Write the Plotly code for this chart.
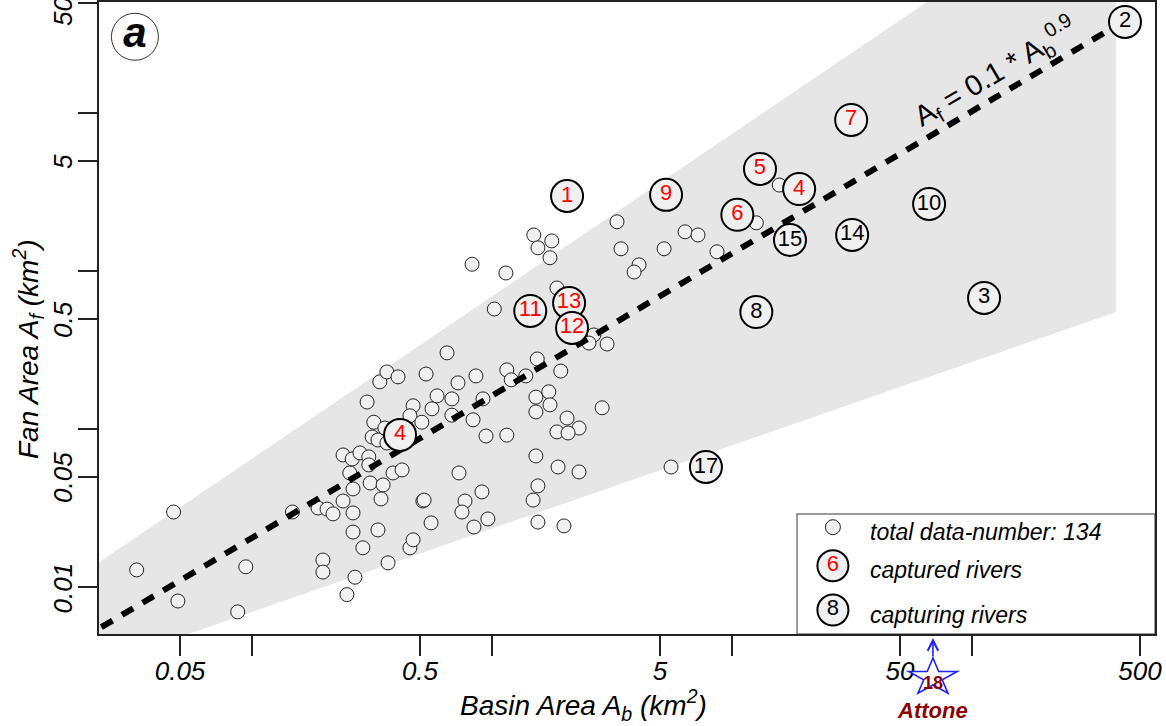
import math
import plotly.graph_objects as go

FONT = "Liberation Sans, Arial, sans-serif"

# ---- all data (basin area Ab km2, fan area Af km2) ----
basin_area = [0.047, 0.033, 0.049, 0.087, 0.094, 0.147, 0.188, 0.205, 0.217, 0.239,
              0.263, 0.263, 0.255, 0.239, 0.261, 0.281, 0.306, 0.306, 0.310, 0.351,
              0.344, 0.386, 0.421, 0.334, 0.263, 0.289, 0.368, 0.454, 0.468, 0.514,
              0.556, 0.197, 0.197, 0.268, 0.248, 0.301, 0.321, 0.316, 0.334, 0.357,
              0.340, 0.364, 0.405, 0.530, 0.468, 0.454, 0.509, 0.561, 0.589, 0.364,
              0.648,
              1.49, 1.77, 1.55, 1.74, 0.824, 1.14, 3.31, 3.44, 6.36, 7.20,
              5.20, 4.09, 3.90, 8.64, 1.86, 1.02, 2.65, 2.53, 3.01, 1.54,
              1.93, 1.15, 1.20, 1.38, 0.855, 0.720, 0.679, 0.915, 0.679, 0.832,
              1.52, 1.52, 1.72, 1.74, 2.87, 2.05, 2.30, 1.86, 2.07, 0.942,
              1.15, 1.52, 1.88, 2.30, 0.727, 5.56, 1.55, 0.906, 0.770, 0.748,
              0.520, 0.959, 0.839, 1.48, 1.55, 1.99, 12.6, 15.7]
fan_area = [0.030, 0.0129, 0.0082, 0.0070, 0.0135, 0.030, 0.0318, 0.0313, 0.0292, 0.0352,
            0.0296, 0.0420, 0.0530, 0.0689, 0.0650, 0.0710, 0.0670, 0.0596, 0.0458, 0.0445,
            0.0363, 0.053, 0.0554, 0.0231, 0.0224, 0.0178, 0.0143, 0.0178, 0.0200, 0.0352,
            0.0256, 0.0149, 0.0125, 0.0116, 0.0090, 0.149, 0.111, 0.0895, 0.0857, 0.102,
            0.200, 0.231, 0.215, 0.224, 0.141, 0.122, 0.111, 0.135, 0.163, 0.082,
            0.305,
            1.70, 1.56, 1.41, 1.22, 1.11, 0.977, 2.06, 1.39, 1.78, 1.70,
            1.39, 1.10, 0.991, 1.33, 0.785, 0.578, 0.396, 0.352, 0.347, 0.279,
            0.234, 0.238, 0.206, 0.218, 0.218, 0.197, 0.156, 0.156, 0.123, 0.115,
            0.160, 0.129, 0.173, 0.143, 0.137, 0.118, 0.102, 0.0964, 0.0949, 0.0908,
            0.092, 0.0679, 0.0578, 0.0538, 0.053, 0.0578, 0.0439, 0.0402, 0.0352, 0.030,
            0.0357, 0.0271, 0.0241, 0.0357, 0.0259, 0.0245, 2.03, 3.52]

captured_id = ["1", "9", "5", "4", "6", "7", "11", "13", "12", "4"]
captured_basin = [2.05, 5.30, 13.05, 19.0, 10.5, 31.3, 1.44, 2.09, 2.15, 0.413]
captured_fan = [3.00, 3.05, 4.45, 3.32, 2.28, 9.09, 0.562, 0.631, 0.439, 0.0923]

capturing_id = ["2", "15", "14", "10", "8", "3", "17"]
capturing_basin = [433, 17.4, 31.6, 66.1, 12.6, 112, 7.77]
capturing_fan = [37.9, 1.58, 1.70, 2.67, 0.553, 0.679, 0.0578]

attone_id = "18"
attone_name = "Attone"
attone_basin = 68.6

fit_basin = [0.0235, 400]
fit_fan = [0.0056, 36]

band_basin = [0.02, 397, 397, 0.02]
band_fan = [0.0125, 327, 0.553, 0.0030]

x_ticks = [0.05, 0.1, 0.5, 1, 5, 10, 50, 100, 500]
x_ticktext = ["0.05", "", "0.5", "", "5", "", "50", "", "500"]
y_ticks = [0.01, 0.05, 0.1, 0.5, 1, 5, 10, 50]
y_ticktext = ["0.01", "0.05", "", "0.5", "", "5", "", "50"]

X_RANGE = [-1.6385, 2.7615]
Y_RANGE = [-2.295, 1.705]

FILL = "#f0f0f0"
EDGE = "#222222"
BLUE = "#1f1fff"
DARKRED = "#8b0000"

fig = go.Figure()

fig.add_trace(go.Scatter(x=band_basin, y=band_fan, mode="lines", fill="toself",
                         fillcolor="#e6e6e6", line=dict(width=0), hoverinfo="skip",
                         showlegend=False))
fig.add_trace(go.Scatter(x=basin_area, y=fan_area, mode="markers",
                         marker=dict(size=14, color=FILL, line=dict(width=1, color=EDGE)),
                         showlegend=False))
fig.add_trace(go.Scatter(x=fit_basin, y=fit_fan, mode="lines",
                         line=dict(color="black", width=6, dash="13px,11px"),
                         showlegend=False))
fig.add_trace(go.Scatter(x=captured_basin, y=captured_fan, mode="markers+text",
                         text=captured_id, textposition="middle center",
                         textfont=dict(family=FONT, size=22, color="#ff0000"),
                         marker=dict(size=32, color=FILL, line=dict(width=2, color="black")),
                         showlegend=False))
fig.add_trace(go.Scatter(x=capturing_basin, y=capturing_fan, mode="markers+text",
                         text=capturing_id, textposition="middle center",
                         textfont=dict(family=FONT, size=22, color="black"),
                         marker=dict(size=32, color=FILL, line=dict(width=2, color="black")),
                         showlegend=False))

# ---- overlay (paper-like) axes for legend box and panel label ----
fig.add_trace(go.Scatter(x=[0.661, 1.0, 1.0, 0.661, 0.661], y=[0, 0, 0.190, 0.190, 0],
                         xaxis="x2", yaxis="y2", mode="lines", fill="toself",
                         fillcolor="white", line=dict(color="#7a7a7a", width=1.5),
                         hoverinfo="skip", showlegend=False, cliponaxis=False))
fig.add_trace(go.Scatter(x=[0.695], y=[0.169], xaxis="x2", yaxis="y2", mode="markers",
                         marker=dict(size=15, color=FILL, line=dict(width=1, color=EDGE)),
                         showlegend=False))
fig.add_trace(go.Scatter(x=[0.695, 0.695], y=[0.108, 0.038], xaxis="x2", yaxis="y2",
                         mode="markers+text", text=["6", "8"], textposition="middle center",
                         textfont=dict(family=FONT, size=22, color=["#ff0000", "black"]),
                         marker=dict(size=31, color=FILL, line=dict(width=2, color="black")),
                         showlegend=False))
fig.add_trace(go.Scatter(x=[0.034], y=[0.945], xaxis="x2", yaxis="y2", mode="markers+text",
                         text=["<b><i>a</i></b>"], textposition="middle center",
                         textfont=dict(family=FONT, size=42, color="black"),
                         marker=dict(size=47, color="white", line=dict(width=1, color="#333")),
                         showlegend=False))

# ---- Attone star (drawn below the x axis as a pixel-sized shape anchored at its basin area) ----
star_rx, star_ry, star_cy = 25.5, 19.5, -43.5   # px: half-width, half-height, centre below axis
pts = []
for k in range(10):
    ang = math.radians(90 + 36 * k)
    f = 1.0 if k % 2 == 0 else 0.382
    pts.append((star_rx * f * math.cos(ang), star_cy + star_ry * f * math.sin(ang)))
star_path = "M" + " L".join("%.2f,%.2f" % p for p in pts) + " Z"
star_shape = dict(type="path", xref="x", yref="paper", xsizemode="pixel", ysizemode="pixel",
                  xanchor=attone_basin, yanchor=0, path=star_path,
                  line=dict(color=BLUE, width=1.6), fillcolor="white", layer="above")

axis_font = dict(family=FONT, size=26, color="black", style="italic")

fig.update_layout(
    width=1166, height=726, autosize=False,
    margin=dict(l=99, r=11, t=2, b=92, autoexpand=False),
    paper_bgcolor="white", plot_bgcolor="white",
    showlegend=False,
    shapes=[star_shape],
    xaxis=dict(type="log", range=X_RANGE, tickvals=x_ticks, ticktext=x_ticktext,
               ticks="outside", ticklen=20, tickwidth=2, tickcolor="#222",
               showline=True, linecolor="#222", linewidth=2, mirror=True,
               showgrid=False, zeroline=False, tickfont=axis_font, automargin=False,
               ticklabelstandoff=-7, ticklabeloverflow="allow"),
    yaxis=dict(type="log", range=Y_RANGE, tickvals=y_ticks, showticklabels=False,
               ticks="outside", ticklen=19, tickwidth=2, tickcolor="#222",
               showline=True, linecolor="#222", linewidth=2, mirror=True,
               showgrid=False, zeroline=False, automargin=False),
    xaxis2=dict(overlaying="x", anchor="y2", range=[0, 1], visible=False, automargin=False),
    yaxis2=dict(overlaying="y", anchor="x2", range=[0, 1], visible=False, automargin=False),
)

title_font = dict(family=FONT, size=28, color="black", style="italic")
C = dict(xanchor="center", yanchor="middle", showarrow=False)
ann = [
    dict(x=0.459, y=-0.112, xref="paper", yref="paper",
         text="Basin Area A<sub>b</sub> (km<sup>2</sup>)", font=title_font, **C),
    dict(x=-0.0672, y=0.451, xref="paper", yref="paper", textangle=-90,
         text="Fan Area A<sub>f</sub> (km<sup>2</sup>)", font=title_font, **C),
    dict(x=0.849, y=0.889, xref="paper", yref="paper", textangle=-30.5,
         text="A<sub>f</sub> = 0.1 * A<sub>b</sub><sup>0.9</sup>",
         font=dict(family=FONT, size=29, color="black"), **C),
    dict(x=0.728, y=0.162, xref="paper", yref="paper", showarrow=False, xanchor="left",
         yanchor="middle", text="<i>total data-number: 134</i>",
         font=dict(family=FONT, size=23, color="black")),
    dict(x=0.728, y=0.101, xref="paper", yref="paper", showarrow=False, xanchor="left",
         yanchor="middle", text="<i>captured rivers</i>",
         font=dict(family=FONT, size=23, color="black")),
    dict(x=0.728, y=0.030, xref="paper", yref="paper", showarrow=False, xanchor="left",
         yanchor="middle", text="<i>capturing rivers</i>",
         font=dict(family=FONT, size=23, color="black")),
    dict(x=math.log10(attone_basin), y=-0.0063, xref="x", yref="paper", showarrow=True,
         ax=0, ay=20, arrowhead=5, arrowsize=1.3, arrowwidth=1.6, arrowcolor=BLUE, text=""),
    dict(x=math.log10(attone_basin), y=-0.0775, xref="x", yref="paper",
         text="<b>" + attone_id + "</b>", font=dict(family=FONT, size=18, color=DARKRED), **C),
    dict(x=math.log10(attone_basin), y=-0.1203, xref="x", yref="paper",
         text="<b><i>" + attone_name + "</i></b>", font=dict(family=FONT, size=22, color=DARKRED), **C),
]
# y tick labels: rotated, centred on their ticks (top one nudged down as in the original)
for v, t in zip(y_ticks, y_ticktext):
    if t:
        ann.append(dict(x=-0.0341, y=math.log10(v), xref="paper", yref="y", textangle=-90,
                        text=t, font=axis_font, yshift=(-8 if v == max(y_ticks) else 0), **C))
fig.update_layout(annotations=ann)

fig.write_html("out.html", post_script="document.body.style.margin='0px';",
               config={"displayModeBar": False})
